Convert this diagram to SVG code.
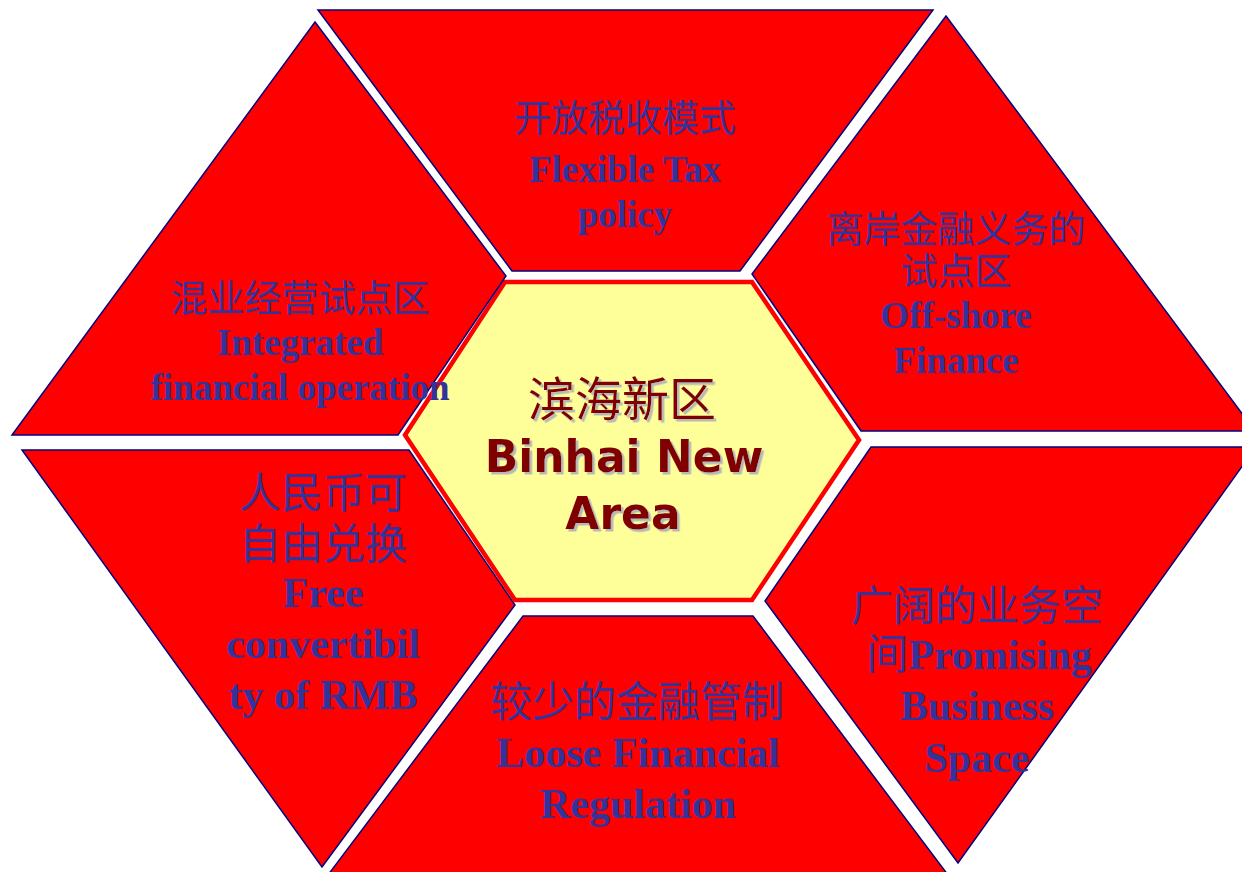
<svg xmlns="http://www.w3.org/2000/svg" width="1242" height="872" viewBox="0 0 1242 872">
<defs>
<style>
.seg{fill:#FF0000;stroke:#000080;stroke-width:1.5;stroke-linejoin:miter}
.hub{fill:#FFFF99;stroke:#FF0000;stroke-width:4.5;stroke-linejoin:miter}
.zh{font-family:"Liberation Serif","Noto Sans CJK SC",serif;font-weight:normal;fill:#333399;text-anchor:middle}
.en{font-family:"Liberation Serif","Noto Sans CJK SC",serif;font-weight:bold;fill:#333399;text-anchor:middle}
.czh{font-family:"Noto Sans CJK SC",sans-serif;font-weight:normal;fill:#800000;text-anchor:middle;font-size:47px}
.cen{font-family:"DejaVu Sans","Noto Sans CJK SC",sans-serif;font-weight:bold;fill:#800000;text-anchor:middle;font-size:44px}
.s37{font-size:37px}
.s42{font-size:42px}
</style>
<filter id="shadow" x="-10%" y="-10%" width="130%" height="140%">
<feDropShadow dx="2.5" dy="2.5" stdDeviation="0.6" flood-color="#B8B8B8" flood-opacity="1"/>
</filter>
</defs>
<rect width="1242" height="872" fill="#FFFFFF"/>
<g id="connectors"></g>
<g id="tax">
<polygon class="seg" points="318,10 933,10 740,271 512,271"/>
<text class="zh s37" x="625" y="132">开放税收模式</text>
<text class="en s37" x="625" y="182">Flexible Tax</text>
<text class="en s37" x="625" y="227">policy</text>
</g>
<g id="offshore">
<polygon class="seg" points="946,16 1255,431 861,431 752,274"/>
<text class="zh s37" x="956" y="243">离岸金融义务的</text>
<text class="zh s37" x="956" y="285">试点区</text>
<text class="en s37" x="956" y="328">Off-shore</text>
<text class="en s37" x="956" y="373">Finance</text>
</g>
<g id="rmb">
<polygon class="seg" points="22,450 409,450 515,605 322,867"/>
<text class="zh s42" x="323" y="508">人民币可</text>
<text class="zh s42" x="323" y="559">自由兑换</text>
<text class="en s42" x="323" y="607">Free</text>
<text class="en s42" x="323" y="658">convertibil</text>
<text class="en s42" x="323" y="709">ty of RMB</text>
</g>
<g id="regulation">
<polygon class="seg" points="523,616 753,616 948,875 328,875"/>
<text class="zh s42" x="637" y="717">较少的金融管制</text>
<text class="en s42" x="638" y="767">Loose Financial</text>
<text class="en s42" x="638" y="818">Regulation</text>
</g>
<g id="business">
<polygon class="seg" points="871,447 1256,447 958,863 765,601"/>
<text class="zh s42" x="977" y="621">广阔的业务空</text>
<text class="en s42" x="979" y="669"><tspan font-weight="normal">间</tspan>Promising</text>
<text class="en s42" x="977" y="720">Business</text>
<text class="en s42" x="977" y="772">Space</text>
</g>
<g id="binhai">
<polygon class="hub" points="505,282 752,282 859,440 752,600 515,600 405,435"/>
<g filter="url(#shadow)">
<text class="czh" x="622" y="416">滨海新区</text>
<text class="cen" x="624" y="472">Binhai New</text>
<text class="cen" x="623" y="529">Area</text>
</g>
</g>
<g id="integrated">
<polygon class="seg" points="315,22 506,276 398,435 12,435"/>
<text class="zh s37" x="300" y="312">混业经营试点区</text>
<text class="en s37" x="300" y="355">Integrated</text>
<text class="en s37" x="300" y="400">financial operation</text>
</g>
</svg>
